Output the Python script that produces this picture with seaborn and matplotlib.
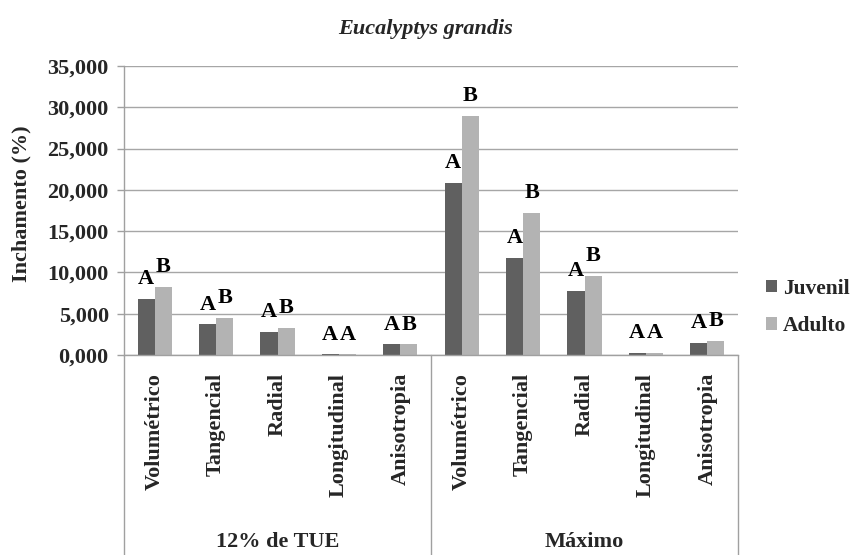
import matplotlib
matplotlib.use('Agg')
import matplotlib.pyplot as plt
import pandas as pd
import seaborn as sns

# Data (swelling, %)
condicoes = ['12% de TUE', 'Máximo']
propriedades = ['Volumétrico', 'Tangencial', 'Radial', 'Longitudinal', 'Anisotropia']
juvenil_12 = [6.82, 3.72, 2.82, 0.08, 1.30]
adulto_12 = [8.27, 4.52, 3.30, 0.08, 1.30]
juvenil_max = [20.86, 11.78, 7.78, 0.24, 1.50]
adulto_max = [28.97, 17.23, 9.56, 0.22, 1.70]
letras_juvenil = ['A', 'A', 'A', 'A', 'A', 'A', 'A', 'A', 'A', 'A']
letras_adulto = ['B', 'B', 'B', 'A', 'B', 'B', 'B', 'B', 'A', 'B']
y_ticks = [0, 5, 10, 15, 20, 25, 30, 35]

sns.set_style('white')
plt.rcParams['font.family'] = 'serif'
plt.rcParams['font.serif'] = ['Liberation Serif', 'DejaVu Serif']
plt.rcParams['font.weight'] = 'bold'

fs = 16

# Long table for seaborn
rows = []
for cond, juv, adu in [(condicoes[0], juvenil_12, adulto_12),
                       (condicoes[1], juvenil_max, adulto_max)]:
    for prop, j, a in zip(propriedades, juv, adu):
        key = cond + ' | ' + prop
        rows.append({'chave': key, 'idade': 'Juvenil', 'valor': j})
        rows.append({'chave': key, 'idade': 'Adulto', 'valor': a})
df = pd.DataFrame(rows)
ordem = [c + ' | ' + p for c in condicoes for p in propriedades]

fig = plt.figure(figsize=(8.56, 5.55), dpi=100)
ax = fig.add_axes([124 / 856, 1 - 355 / 555, (738 - 124) / 856, (355 - 66) / 555])

sns.barplot(data=df, x='chave', y='valor', hue='idade', order=ordem,
            hue_order=['Juvenil', 'Adulto'],
            palette={'Juvenil': '#606060', 'Adulto': '#b3b3b3'},
            width=0.56, gap=0, linewidth=0, saturation=1, ax=ax, errorbar=None)

# Significance letters above the bars
for cont, letras in zip(ax.containers, [letras_juvenil, letras_adulto]):
    ax.bar_label(cont, labels=letras, padding=7, fontsize=fs,
                 fontweight='bold', color='black')

# Y axis
ax.set_ylim(0, 35)
ax.set_yticks(y_ticks)
ax.set_yticklabels([f'{v:.3f}'.replace('.', ',') for v in y_ticks],
                   fontsize=fs, fontweight='bold')
ax.yaxis.grid(True, color='#a6a6a6', lw=1)
ax.set_axisbelow(True)
ax.tick_params(axis='y', length=5, width=1, color='#a0a0a0', pad=6,
               left=True)
ax.set_ylabel('Inchamento (%)', fontsize=fs, fontweight='bold')
ax.yaxis.set_label_coords((31 - 124) / 614, (355 - 204) / 289)

# X axis: rotated sub-categories plus group labels
ax.set_xlim(-0.5, len(ordem) - 0.5)
ax.set_xticks(range(len(ordem)))
ax.set_xticklabels(propriedades * 2, rotation=90, fontsize=fs,
                   fontweight='bold', va='top', ha='center')
ax.tick_params(axis='x', length=0, pad=13)
ax.set_xlabel('')

for s in ['top', 'right']:
    ax.spines[s].set_visible(False)
for s in ['left', 'bottom']:
    ax.spines[s].set_color('#a0a0a0')
    ax.spines[s].set_linewidth(1)

trans = ax.get_xaxis_transform()
for xpos in [-0.5, 4.5, 9.5]:
    ax.plot([xpos, xpos], [0, -0.7], transform=trans, color='#a0a0a0',
            lw=1, clip_on=False)
for i, cond in enumerate(condicoes):
    ax.text(2 + 5 * i, -(542 - 355) / 289, cond, transform=trans,
            ha='center', va='center', fontsize=fs, fontweight='bold')

# Legend
handles, labels = ax.get_legend_handles_labels()
ax.legend(handles, labels, loc='center left', frameon=False,
          bbox_to_anchor=(766 / 856, 1 - 307.5 / 555),
          bbox_transform=fig.transFigure, borderpad=0,
          borderaxespad=0, handlelength=0.5, handleheight=0.5,
          handletextpad=0.3, labelspacing=0.8,
          prop={'size': 15.5, 'weight': 'bold'})

fig.text(426 / 856, 1 - 29 / 555, 'Eucalyptys grandis', ha='center',
         va='center', fontsize=fs, fontweight='bold', style='italic')

fig.savefig('out.png', dpi=100)
